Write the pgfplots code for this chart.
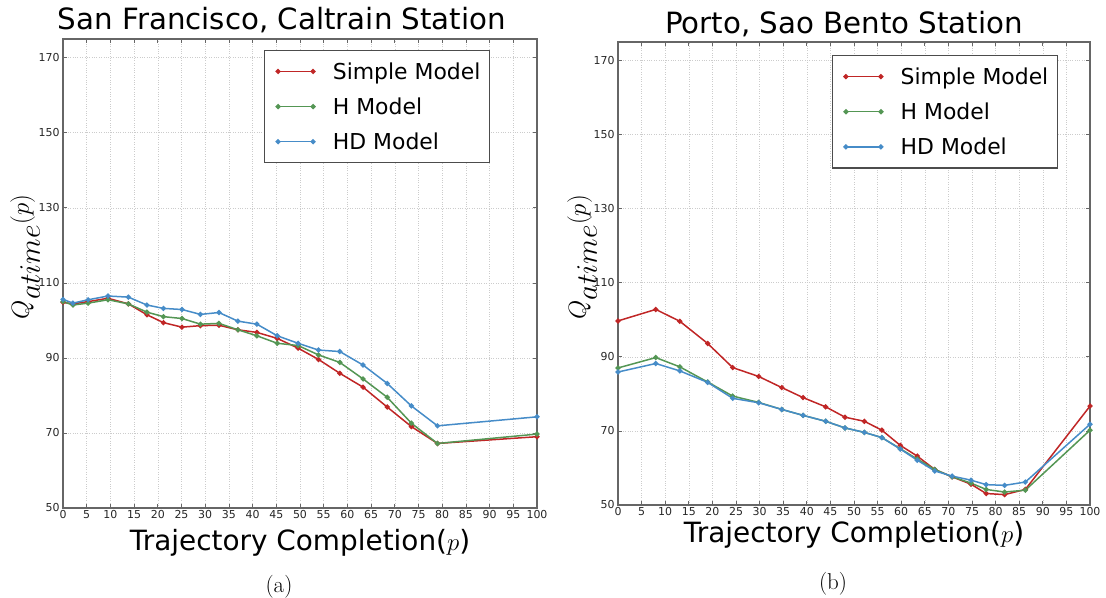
\documentclass[border=0pt]{standalone}
\usepackage{fontspec}
\setsansfont{DejaVu Sans}
\usepackage{graphicx}
\usepackage{pgfplots}
\pgfplotsset{compat=1.18}
\definecolor{cred}{RGB}{192,38,38}
\definecolor{cgreen}{RGB}{84,150,84}
\definecolor{cblue}{RGB}{70,140,200}

\pgfplotsset{
  myaxis/.style={
    scale only axis,
    xmin=0, xmax=100, ymin=50, ymax=175,
    xtick={0,5,...,100}, ytick={50,70,...,170},
    grid=major,
    major grid style={dotted, gray!40, line width=0.6bp},
    axis line style={black!60, line width=1.2bp},
    tick style={black!60, line width=0.7bp},
    major tick length=4bp,
    tick align=inside,
    ticklabel style={font=\sffamily\fontsize{11}{13}\selectfont, text=black!85},
    xticklabel style={yshift=1bp},
    /pgf/number format/assume math mode=true,
    xlabel={Trajectory Completion($p$)},
    ylabel={$Q_{\scalebox{1.2}{$\scriptstyle atime$}}(p)$},
    xlabel style={font=\sffamily\fontsize{28}{32}\selectfont, anchor=base},
    ylabel style={font=\sffamily\fontsize{40}{44}\selectfont, anchor=center},
    title style={font=\sffamily\fontsize{29.4}{33}\selectfont, anchor=base},
    legend cell align=left,
    legend style={draw=black!70, line width=1.2bp,
      font=\sffamily\fontsize{22}{26}\selectfont,
      inner xsep=7bp, inner ysep=10bp, row sep=13bp,
      /tikz/every odd column/.append style={column sep=16bp}},
    legend image code/.code={
      \path (-6bp,0bp);
      \draw[#1, mark=none, line width=1.4bp] (0bp,0bp) -- (35bp,0bp);
      \draw[#1, only marks] plot coordinates {(0bp,0bp) (35bp,0bp)};
    },
    every axis plot/.append style={line width=1.5bp, mark=*, mark size=1.8bp},
  }
}

\begin{document}
\begin{tikzpicture}
\useasboundingbox (0,0) rectangle (1106bp,598bp);

% ---------- (a) San Francisco ----------
\begin{axis}[myaxis,
  at={(63bp,90bp)}, anchor=south west,
  width=474bp, height=469bp,
  title={San Francisco, Caltrain Station},
  title style={at={(axis description cs:0.462,1)}, yshift=4bp},
  xlabel style={at={(axis description cs:0.5,-0.0896)}},
  ylabel style={at={(axis description cs:-0.080,0.535)}},
  legend style={at={(axis description cs:0.901,0.977)}, anchor=north east},
]
\addplot[cred, mark options={fill=cred}] coordinates {
(0,104.8) (2.1,104.4) (5.3,105.0) (9.5,105.9) (13.8,104.4) (17.7,101.5)
(21.2,99.4) (25.1,98.2) (29.0,98.6) (32.9,98.7) (36.9,97.5) (40.9,96.8)
(45.2,95.2) (49.6,92.6) (53.9,89.6) (58.4,85.9) (63.3,82.2) (68.4,76.9)
(73.5,71.7) (79.0,67.2) (100,69.0)};
\addlegendentry{Simple Model}
\addplot[cgreen, mark options={fill=cgreen}] coordinates {
(0,105.0) (2.1,104.1) (5.3,104.6) (9.5,105.5) (13.8,104.4) (17.7,102.2)
(21.2,101.0) (25.1,100.5) (29.0,99.0) (32.9,99.2) (36.9,97.5) (40.9,95.9)
(45.2,93.9) (49.6,93.3) (53.9,90.8) (58.4,88.8) (63.3,84.4) (68.4,79.5)
(73.5,72.6) (79.0,67.2) (100,69.7)};
\addlegendentry{H Model}
\addplot[cblue, mark options={fill=cblue}] coordinates {
(0,105.6) (2.1,104.6) (5.3,105.5) (9.5,106.5) (13.8,106.2) (17.7,104.1)
(21.2,103.2) (25.1,102.9) (29.0,101.6) (32.9,102.1) (36.9,99.8) (40.9,99.0)
(45.2,95.9) (49.6,93.9) (53.9,92.1) (58.4,91.7) (63.3,88.1) (68.4,83.2)
(73.5,77.2) (79.0,71.9) (100,74.3)};
\addlegendentry{HD Model}
\end{axis}

% ---------- (b) Porto ----------
\begin{axis}[myaxis,
  at={(618bp,93bp)}, anchor=south west,
  width=472bp, height=463bp,
  title={Porto, Sao Bento Station},
  title style={at={(axis description cs:0.479,1)}, yshift=3bp},
  xlabel style={at={(axis description cs:0.5,-0.082)}},
  ylabel style={at={(axis description cs:-0.076,0.535)}},
  legend style={at={(axis description cs:0.932,0.972)}, anchor=north east},
]
\addplot[cred, mark options={fill=cred}] coordinates {
(0,99.7) (8.0,102.8) (13.1,99.6) (19.0,93.6) (24.3,87.1) (29.8,84.7)
(34.7,81.7) (39.2,79.0) (44.0,76.5) (48.1,73.7) (52.2,72.6) (55.9,70.2)
(59.8,66.1) (63.4,63.2) (67.1,59.6) (70.8,57.6) (74.8,55.6) (78.0,53.1)
(81.9,52.8) (86.3,54.2) (100,76.7)};
\addlegendentry{Simple Model}
\addplot[cgreen, mark options={fill=cgreen}] coordinates {
(0,87.0) (8.0,89.8) (13.1,87.3) (19.0,83.2) (24.3,79.4) (29.8,77.7)
(34.7,75.8) (39.2,74.2) (44.0,72.6) (48.1,70.8) (52.2,69.6) (55.9,68.2)
(59.8,65.2) (63.4,62.4) (67.1,59.6) (70.8,57.6) (74.8,55.9) (78.0,54.2)
(81.9,53.5) (86.3,54.0) (100,70.2)};
\addlegendentry{H Model}
\addplot[cblue, mark options={fill=cblue}] coordinates {
(0,85.9) (8.0,88.2) (13.1,86.2) (19.0,83.1) (24.3,78.8) (29.8,77.6)
(34.7,75.8) (39.2,74.2) (44.0,72.6) (48.1,70.8) (52.2,69.6) (55.9,68.2)
(59.8,65.1) (63.4,62.1) (67.1,59.2) (70.8,57.8) (74.8,56.7) (78.0,55.5)
(81.9,55.3) (86.3,56.2) (100,71.8)};
\addlegendentry{HD Model}
\end{axis}

\node[font=\fontsize{23}{27}\selectfont, anchor=base] at (279bp,6bp) {(a)};
\node[font=\fontsize{23}{27}\selectfont, anchor=base] at (833bp,9bp) {(b)};
\end{tikzpicture}
\end{document}
